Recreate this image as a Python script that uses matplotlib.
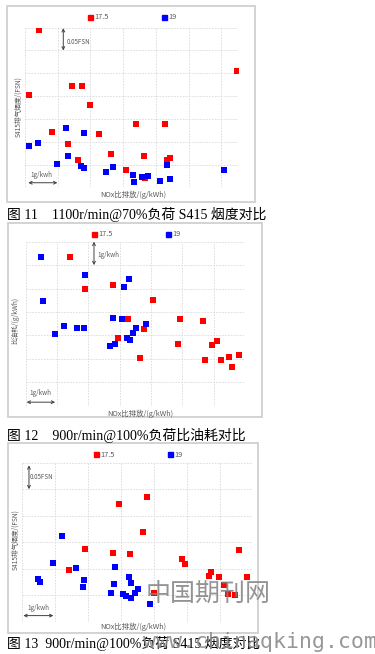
import matplotlib
matplotlib.use("Agg")
import matplotlib.pyplot as plt
from matplotlib.lines import Line2D
from matplotlib.patches import Rectangle

W, H = 375, 654

# ---- 图11 1100r/min@70%负荷 S415 烟度 ----
nox11_r = [0.44, 0.13, 1.44, 1.73, 2.00, 0.83, 1.31, 2.26, 1.63, 2.63, 3.40, 4.27, 3.65, 3.10, 3.67, 4.43, 4.34, 6.48]
fsn11_r = [0.345, 0.203, 0.223, 0.223, 0.180, 0.122, 0.094, 0.117, 0.059, 0.073, 0.139, 0.139, 0.068, 0.038, 0.020, 0.065, 0.059, 0.255]
nox11_b = [0.12, 0.40, 0.98, 1.24, 1.32, 1.80, 1.71, 1.80, 2.49, 2.68, 3.31, 3.32, 3.57, 3.77, 4.14, 4.34, 4.44, 6.09]
fsn11_b = [0.091, 0.097, 0.051, 0.130, 0.069, 0.119, 0.047, 0.042, 0.033, 0.045, 0.026, 0.012, 0.023, 0.025, 0.014, 0.048, 0.019, 0.038]

# ---- 图12 900r/min@100%负荷 比油耗 ----
nox12_r = [1.42, 1.90, 2.78, 4.06, 3.27, 4.93, 5.67, 3.79, 2.95, 4.86, 3.66, 6.10, 5.95, 5.73, 6.23, 6.49, 6.81, 6.58]
bsfc12_r = [6.34, 4.96, 5.17, 4.50, 3.69, 3.68, 3.62, 3.26, 2.89, 2.65, 2.03, 2.78, 2.58, 1.95, 1.95, 2.07, 2.17, 1.65]
nox12_b = [0.49, 0.55, 1.88, 3.29, 3.14, 1.22, 0.95, 1.64, 1.85, 2.78, 3.08, 3.85, 3.52, 3.42, 3.23, 3.32, 2.84, 2.69]
bsfc12_b = [6.34, 4.47, 5.56, 5.41, 5.07, 3.42, 3.06, 3.33, 3.33, 3.76, 3.71, 3.48, 3.33, 3.09, 2.91, 2.81, 2.62, 2.55]

# ---- 图13 900r/min@100%负荷 S415 烟度 ----
nox13_r = [3.80, 2.96, 3.67, 1.91, 2.78, 3.28, 1.43, 4.87, 4.94, 6.58, 5.74, 5.68, 5.97, 6.83, 6.12, 4.02, 6.25, 6.46]
fsn13_r = [0.236, 0.222, 0.169, 0.137, 0.130, 0.128, 0.097, 0.119, 0.108, 0.136, 0.093, 0.087, 0.085, 0.085, 0.070, 0.055, 0.053, 0.051]
nox13_b = [1.22, 0.95, 1.65, 0.48, 0.56, 1.89, 1.86, 2.84, 2.79, 2.71, 3.24, 3.31, 3.08, 3.15, 3.32, 3.42, 3.53, 3.88]
fsn13_b = [0.161, 0.110, 0.101, 0.081, 0.074, 0.078, 0.066, 0.103, 0.071, 0.054, 0.085, 0.073, 0.052, 0.048, 0.044, 0.054, 0.061, 0.034]

series_names = ["17.5", "19"]
captions = ["图 11    1100r/min@70%负荷 S415 烟度对比",
            "图 12    900r/min@100%负荷比油耗对比",
            "图 13  900r/min@100%负荷 S415 烟度对比"]
xlabel = "NOx比排放/(g/kWh)"
ylabels = ["S415排气烟度/(FSN)", "比油耗/(g/kWh)", "S415排气烟度/(FSN)"]

plt.rcParams['font.family'] = ['Noto Sans CJK SC', 'DejaVu Sans']
cap_font = ['Liberation Serif', 'Noto Sans CJK SC']
RED, BLUE = '#ff0000', '#0000ff'
GRID = '#d9d9d9'
TXT = '#595959'

fig = plt.figure(figsize=(W / 100, H / 100), dpi=100)


def px_axes(l, t, r, b):
    return fig.add_axes([l / W, 1 - b / H, (r - l) / W, (b - t) / H])


def frame(l, t, r, b):
    fig.add_artist(Rectangle((l / W, 1 - b / H), (r - l) / W, (b - t) / H,
                             transform=fig.transFigure, fill=False,
                             ec='#d0d0d0', lw=1.3))


def style(ax, xmax, ymax, ystep):
    ax.set_xlim(0, xmax)
    ax.set_ylim(0, ymax)
    ax.set_xticks(range(0, int(xmax) + 1))
    n = int(round(ymax / ystep))
    ax.set_yticks([i * ystep for i in range(n + 1)])
    ax.grid(True, ls=(0, (2, 1.5)), color=GRID, lw=0.6)
    ax.set_axisbelow(True)
    for s in ax.spines.values():
        s.set_visible(False)
    ax.tick_params(length=0, labelbottom=False, labelleft=False)


def legend(ax, x, y):
    hs = [Line2D([], [], marker='s', ls='', color=c, markersize=3.6) for c in (RED, BLUE)]
    ax.legend(hs, series_names, loc='center', bbox_to_anchor=(x, y), ncol=2,
              frameon=False, fontsize=5.3, handletextpad=0.1, columnspacing=7.0,
              handlelength=1.0, labelcolor=TXT)


def arrow(ax, p0, p1):
    ax.annotate('', xy=p1, xytext=p0, annotation_clip=False,
                arrowprops=dict(arrowstyle='<->', color='#404040', lw=0.7,
                                shrinkA=0, shrinkB=0, mutation_scale=5))


# panel 11
frame(7, 6, 255, 202)
ax1 = px_axes(25, 27.7, 237.7, 187.3)
style(ax1, 6.5, 0.35, 0.05)
ax1.scatter(nox11_r, fsn11_r, marker='s', s=13, c=RED, lw=0, zorder=3)
ax1.scatter(nox11_b, fsn11_b, marker='s', s=13, c=BLUE, lw=0, zorder=3)
legend(ax1, 0.50, 1.065)
arrow(ax1, (1.17, 0.349), (1.17, 0.300))
ax1.text(1.27, 0.3195, '0.05FSN', fontsize=4.5, color=TXT, va='center')
arrow(ax1, (0.10, 0.010), (0.99, 0.010))
ax1.text(0.51, 0.027, '1g/kwh', fontsize=4.5, color=TXT, ha='center', va='center')
fig.text(133 / W, 1 - 195 / H, xlabel, fontsize=5.3, color=TXT, ha='center', va='center')
fig.text(18 / W, 1 - 107 / H, ylabels[0], fontsize=4.8, color=TXT, ha='center',
         va='center', rotation=90)

# panel 12
frame(8, 223, 262, 417)
ax2 = px_axes(25.7, 241.7, 245, 405.7)
style(ax2, 7, 7, 1)
ax2.scatter(nox12_r, bsfc12_r, marker='s', s=13, c=RED, lw=0, zorder=3)
ax2.scatter(nox12_b, bsfc12_b, marker='s', s=13, c=BLUE, lw=0, zorder=3)
legend(ax2, 0.50, 1.045)
arrow(ax2, (2.18, 7.0), (2.18, 6.0))
ax2.text(2.29, 6.43, '1g/kwh', fontsize=4.5, color=TXT, va='center')
arrow(ax2, (0.03, 0.15), (0.94, 0.15))
ax2.text(0.48, 0.53, '1g/kwh', fontsize=4.5, color=TXT, ha='center', va='center')
fig.text(140 / W, 1 - 413.5 / H, xlabel, fontsize=5.3, color=TXT, ha='center', va='center')
fig.text(15 / W, 1 - 320 / H, ylabels[1], fontsize=4.8, color=TXT, ha='center',
         va='center', rotation=90)

# panel 13
frame(8, 443, 258, 633)
ax3 = px_axes(21.7, 462.7, 252.7, 621.7)
style(ax3, 7, 0.30, 0.05)
ax3.scatter(nox13_r, fsn13_r, marker='s', s=13, c=RED, lw=0, zorder=3)
ax3.scatter(nox13_b, fsn13_b, marker='s', s=13, c=BLUE, lw=0, zorder=3)
legend(ax3, 0.50, 1.05)
arrow(ax3, (0.22, 0.295), (0.22, 0.250))
ax3.text(0.25, 0.2725, '0.05FSN', fontsize=4.5, color=TXT, va='center')
arrow(ax3, (0.05, 0.0115), (0.96, 0.0115))
ax3.text(0.50, 0.025, '1g/kwh', fontsize=4.5, color=TXT, ha='center', va='center')
fig.text(133 / W, 1 - 627 / H, xlabel, fontsize=5.3, color=TXT, ha='center', va='center')
fig.text(15 / W, 1 - 540 / H, ylabels[2], fontsize=4.8, color=TXT, ha='center',
         va='center', rotation=90)

# captions
for cap, yc in zip(captions, [214, 435, 643]):
    fig.text(7 / W, 1 - yc / H, cap, fontsize=10, family=cap_font,
             ha='left', va='center', color='black')

# watermark
fig.text(208 / W, 1 - 595 / H, '中国期刊网', fontsize=18, color='#808080', alpha=0.85,
         ha='center', va='center')
fig.text(143 / W, 1 - 642 / H, 'www.chinaqking.com', fontsize=15.5, color='#8c8c8c',
         alpha=0.9, family='DejaVu Sans Mono', ha='left', va='center')

fig.savefig('out.png', dpi=100)
